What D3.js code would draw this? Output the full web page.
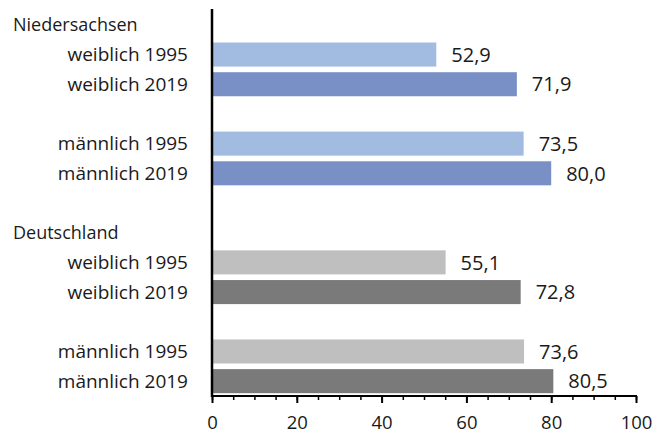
<!DOCTYPE html>
<html>
<head>
<meta charset="utf-8">
<script src="https://cdn.jsdelivr.net/npm/d3@7"></script>
<style>
  body { margin: 0; background: #fff; }
  text { font-family: "Open Sans", "Noto Sans", sans-serif; fill: #1a1a1a; }
</style>
</head>
<body>
<svg width="652" height="437"></svg>
<script>
// rows of the chart, top to bottom (sp = empty spacer row)
var rows = ["Niedersachsen", "nw1995", "nw2019", "sp1", "nm1995", "nm2019", "sp2",
            "Deutschland", "dw1995", "dw2019", "sp3", "dm1995", "dm2019"];
var headers = ["Niedersachsen", "Deutschland"];
var barKeys = ["nw1995", "nw2019", "nm1995", "nm2019", "dw1995", "dw2019", "dm1995", "dm2019"];
var barLabels = ["weiblich 1995", "weiblich 2019", "männlich 1995", "männlich 2019",
                 "weiblich 1995", "weiblich 2019", "männlich 1995", "männlich 2019"];
var values = [52.9, 71.9, 73.5, 80.0, 55.1, 72.8, 73.6, 80.5];
var colors = ["#a2bbe1", "#7890c6", "#a2bbe1", "#7890c6", "#bfbfbf", "#7a7a7a", "#bfbfbf", "#7a7a7a"];
var tickValues = [0, 20, 40, 60, 80, 100];

var svg = d3.select("svg"),
    mLeft = 212, mRight = 636, mTop = 10, mBottom = 396;

var x = d3.scaleLinear().domain([0, 100]).range([mLeft, mRight]);
var y = d3.scaleBand().domain(rows).range([mTop, mBottom]).paddingInner(0.19).paddingOuter(0.095);

var data = barKeys.map(function(k, i) {
    return { key: k, label: barLabels[i], value: values[i], color: colors[i] };
});

// bars
svg.selectAll(".bar")
   .data(data)
   .enter().append("rect")
   .attr("class", "bar")
   .attr("x", x(0))
   .attr("y", function(d) { return y(d.key); })
   .attr("width", function(d) { return x(d.value) - x(0); })
   .attr("height", y.bandwidth())
   .attr("fill", function(d) { return d.color; });

// value labels
svg.selectAll(".val")
   .data(data)
   .enter().append("text")
   .attr("class", "val")
   .attr("x", function(d) { return x(d.value) + 15; })
   .attr("y", function(d) { return y(d.key) + y.bandwidth() / 2; })
   .attr("dy", "0.36em")
   .attr("font-size", "20px")
   .text(function(d) { return d3.format(".1f")(d.value).replace(".", ","); });

// category labels
svg.selectAll(".cat")
   .data(data)
   .enter().append("text")
   .attr("class", "cat")
   .attr("x", 188)
   .attr("y", function(d) { return y(d.key) + y.bandwidth() / 2; })
   .attr("dy", "0.36em")
   .attr("text-anchor", "end")
   .attr("font-size", "19px")
   .text(function(d) { return d.label; });

// group headers
svg.selectAll(".head")
   .data(headers)
   .enter().append("text")
   .attr("class", "head")
   .attr("x", 13)
   .attr("y", function(d) { return y(d) + y.bandwidth() / 2; })
   .attr("dy", "0.36em")
   .attr("font-size", "18px")
   .text(function(d) { return d; });

// x axis: minor ticks every 5, major every 20
var xAxis = svg.append("g").attr("transform", "translate(0," + mBottom + ")");
xAxis.call(d3.axisBottom(x).tickValues(d3.range(0, 101, 5)).tickSize(4).tickFormat(""))
     .call(function(g) { g.select(".domain").remove(); });
xAxis.selectAll(".tick line").attr("stroke", "#000").attr("stroke-width", 1.5);
var xMajor = svg.append("g").attr("transform", "translate(0," + mBottom + ")");
xMajor.call(d3.axisBottom(x).tickValues(tickValues).tickSize(7).tickPadding(13))
      .call(function(g) { g.select(".domain").remove(); });
xMajor.selectAll(".tick line").attr("stroke", "#000").attr("stroke-width", 2);
xMajor.selectAll(".tick text").attr("font-size", "18.5px").attr("font-family", "Open Sans, Noto Sans, sans-serif").attr("fill", "#1a1a1a");

svg.append("line")
   .attr("x1", mLeft - 1).attr("x2", mRight + 1)
   .attr("y1", mBottom).attr("y2", mBottom)
   .attr("stroke", "#000").attr("stroke-width", 2);

// y axis line
svg.append("line")
   .attr("x1", mLeft).attr("x2", mLeft)
   .attr("y1", 9).attr("y2", mBottom + 1)
   .attr("stroke", "#000").attr("stroke-width", 2.5);
</script>
</body>
</html>
